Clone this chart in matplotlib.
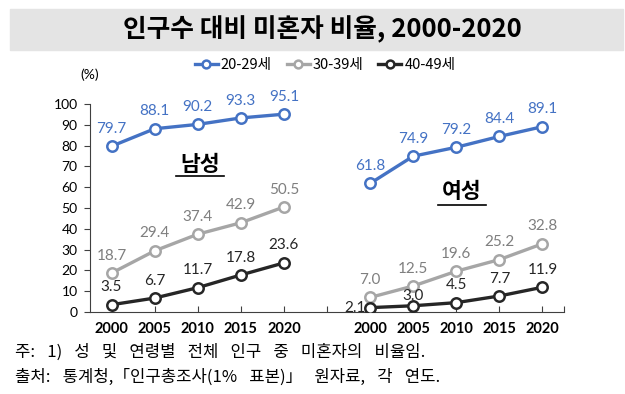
import matplotlib
matplotlib.use('Agg')
import matplotlib.pyplot as plt
import matplotlib.patches as mpatches

plt.rcParams['font.family'] = ['Noto Sans CJK KR', 'DejaVu Sans']

# data
years = ['2000', '2005', '2010', '2015', '2020']
male_20s = [79.7, 88.1, 90.2, 93.3, 95.1]
male_30s = [18.7, 29.4, 37.4, 42.9, 50.5]
male_40s = [3.5, 6.7, 11.7, 17.8, 23.6]
female_20s = [61.8, 74.9, 79.2, 84.4, 89.1]
female_30s = [7.0, 12.5, 19.6, 25.2, 32.8]
female_40s = [2.1, 3.0, 4.5, 7.7, 11.9]
series_names = ['20-29세', '30-39세', '40-49세']

# positions: male 0-4, gap at 5, female 6-10
x_m = list(range(0, 5))
x_f = list(range(6, 11))

line_colors = ['#4472C4', '#A6A6A6', '#262626']
label_colors = ['#4472C4', '#7F7F7F', '#262626']
num_font = ['Lato', 'DejaVu Sans']

fig = plt.figure(figsize=(6.25, 3.94), dpi=100)

# title band
fig.patches.append(mpatches.Rectangle((10/625, 1-50/394), 613/625, 41/394,
                                      transform=fig.transFigure, color='#E4E4E4', zorder=0))
fig.text(0.516, 1-30/394, '인구수 대비 미혼자 비율, 2000-2020', ha='center', va='center',
         fontsize=18.5, fontweight='bold')

ax = fig.add_axes([90/625, 1-312/394, 474/625, 208/394])

male = [male_20s, male_30s, male_40s]
female = [female_20s, female_30s, female_40s]
handles = []
for i in range(3):
    h, = ax.plot(x_m, male[i], color=line_colors[i], lw=2.4, marker='o', ms=7.5,
                 mfc='white', mec=line_colors[i], mew=1.8, zorder=3)
    ax.plot(x_f, female[i], color=line_colors[i], lw=2.4, marker='o', ms=7.5,
            mfc='white', mec=line_colors[i], mew=1.8, zorder=3)
    handles.append(h)
    for xx, v in zip(x_m, male[i]):
        ax.annotate(f'{v:.1f}', (xx, v), xytext=(0, 7.5), textcoords='offset points',
                    ha='center', va='bottom', fontsize=11, color=label_colors[i],
                    family=num_font)
    for j, (xx, v) in enumerate(zip(x_f, female[i])):
        off = (0, 7.5)
        ha = 'center'
        if i == 2 and j == 0:
            off = (-3.5, 0)
            ha = 'right'
        elif i == 2 and j == 1:
            off = (0, 2)
        ax.annotate(f'{v:.1f}', (xx, v), xytext=off, textcoords='offset points',
                    ha=ha, va='bottom' if off[1] > 0 else 'center', fontsize=11,
                    color=label_colors[i], family=num_font)

ax.set_xlim(-0.5, 10.5)
ax.set_ylim(0, 100)
ax.set_yticks(range(0, 101, 10))
ax.set_xticks(x_m + x_f)
ax.set_xticklabels(years + years, fontweight='bold', fontsize=10.5, family=num_font)
ax.set_xticks([5, 10.5], minor=True)
ax.tick_params(axis='x', which='both', direction='in', length=4, width=0.8,
               colors='#404040', labelcolor='black', pad=7)
ax.tick_params(axis='y', direction='out', length=4, width=0.8, labelsize=10, pad=5,
               colors='#404040', labelcolor='black')
for lab in ax.get_yticklabels():
    lab.set_family(num_font)
ax.spines['top'].set_visible(False)
ax.spines['right'].set_visible(False)
ax.spines['left'].set_color('#404040')
ax.spines['bottom'].set_color('#404040')
ax.patch.set_visible(False)

ax.text(2.05, 71, '남성', ha='center', va='center', fontsize=15.5, fontweight='bold')
ax.plot([1.5, 2.6], [65.4, 65.4], color='black', lw=1.2)
ax.text(8.13, 58, '여성', ha='center', va='center', fontsize=15.5, fontweight='bold')
ax.plot([7.58, 8.68], [51.5, 51.5], color='black', lw=1.2)

fig.text(90/625, 1-75/394, '(%)', ha='center', va='center', fontsize=10, family=num_font)

fig.legend(handles, series_names, loc='center', bbox_to_anchor=(0.52, 1-65/394),
           ncol=3, frameon=False, fontsize=10.5, handlelength=1.6, columnspacing=1.0,
           handletextpad=0.2, markerscale=0.75)

# footnotes (wide word gaps as in the source)
sp = '\u2002 '
note1 = sp.join(['주:', '1)', '성', '및', '연령별', '전체', '인구', '중', '미혼자의', '비율임.'])
note2 = sp.join(['출처:', '통계청,「인구총조사(1%', '표본)」', '원자료,', '각', '연도.'])
fig.text(15/625, 1-352/394, note1, ha='left', va='center', fontsize=12)
fig.text(15/625, 1-377/394, note2, ha='left', va='center', fontsize=12)

fig.savefig('out.png', dpi=100)
